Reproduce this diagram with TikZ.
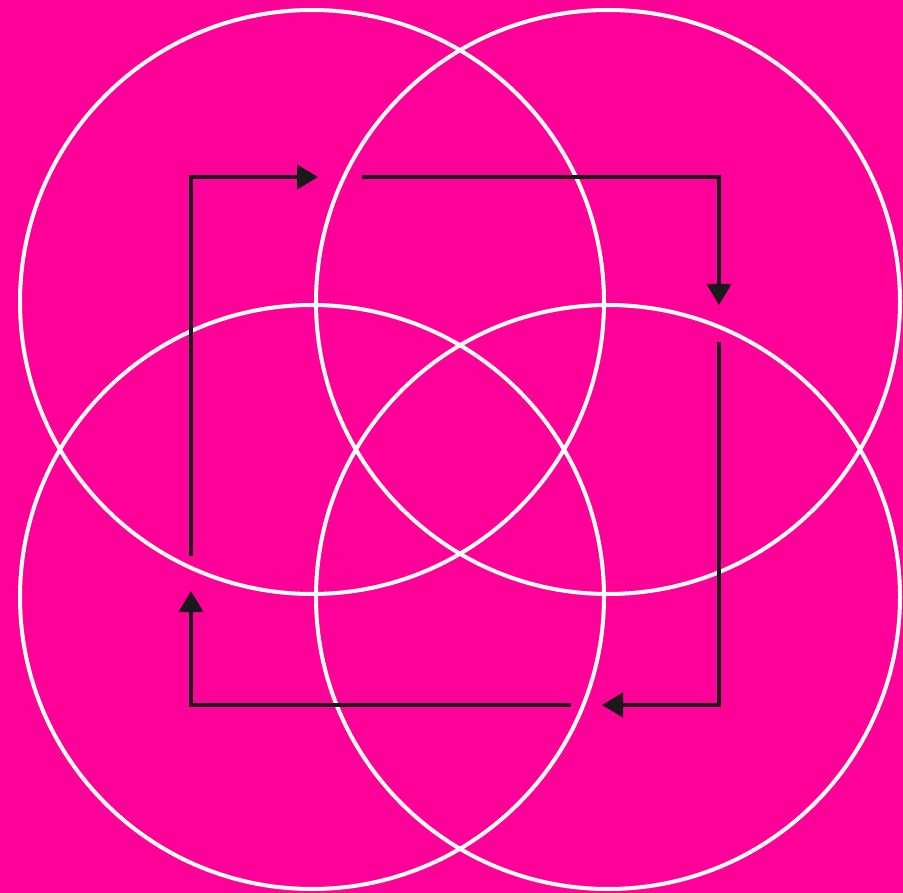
\documentclass[tikz,border=0pt]{standalone}
\usetikzlibrary{arrows.meta}
\definecolor{bgpink}{HTML}{FF0099}
\definecolor{arrowdark}{HTML}{1A1A1A}
\begin{document}
\begin{tikzpicture}[x=1pt,y=-1pt,
  ring/.style={draw=white,line width=4pt},
  flow/.style={draw=arrowdark,line width=4pt,-{Triangle[length=21pt,width=24pt]}}]
\fill[bgpink] (0,0) rectangle (903,893);
\useasboundingbox (0,0) rectangle (903,893);
\draw[ring] (312,302) circle (292);
\draw[ring] (608,302) circle (292);
\draw[ring] (312,597) circle (292);
\draw[ring] (608,597) circle (292);
\coordinate (a0) at (191,556);
\coordinate (a1) at (191,177);
\coordinate (a2) at (318,177);
\coordinate (b0) at (362,177);
\coordinate (b1) at (719,177);
\coordinate (b2) at (719,305);
\coordinate (c0) at (719,342);
\coordinate (c1) at (719,705);
\coordinate (c2) at (602,705);
\coordinate (d0) at (571,705);
\coordinate (d1) at (191,705);
\coordinate (d2) at (191,591);
\draw[flow] (a0) -- (a1) -- (a2);
\draw[flow] (b0) -- (b1) -- (b2);
\draw[flow] (c0) -- (c1) -- (c2);
\draw[flow] (d0) -- (d1) -- (d2);
\end{tikzpicture}
\end{document}
